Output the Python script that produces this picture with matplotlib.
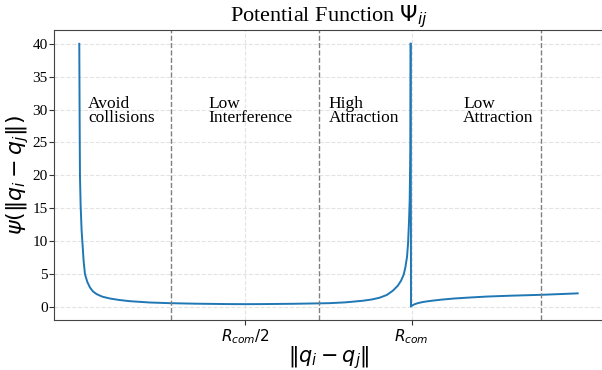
import matplotlib
matplotlib.use("Agg")
import matplotlib.pyplot as plt
import numpy as np

# distances in units of R_com
dist = [0.001, 0.002, 0.003, 0.005, 0.008, 0.010, 0.014, 0.018, 0.025, 0.033,
        0.042, 0.053, 0.070, 0.093, 0.120, 0.153, 0.213, 0.273, 0.35, 0.45,
        0.50, 0.55, 0.65, 0.72, 0.753, 0.80, 0.852, 0.88, 0.903, 0.925,
        0.943, 0.958, 0.968, 0.976, 0.981, 0.986, 0.989, 0.992, 0.994, 0.996,
        0.997,
        0.998, 1.002, 1.008, 1.018, 1.035, 1.059, 1.09, 1.128, 1.175, 1.228,
        1.30, 1.389, 1.45, 1.499]
psi = [40.0, 29.0, 20.0, 15.5, 11.6, 10.1, 7.0, 5.0, 3.8, 2.95,
       2.35, 1.94, 1.55, 1.27, 1.05, 0.86, 0.66, 0.56, 0.48, 0.42,
       0.41, 0.42, 0.47, 0.53, 0.56, 0.68, 0.92, 1.12, 1.38, 1.80,
       2.44, 3.20, 3.97, 4.9, 6.0, 7.6, 9.57, 13.0, 16.2, 24.0,
       40.0,
       0.10, 0.22, 0.38, 0.56, 0.75, 0.92, 1.10, 1.27, 1.42, 1.57,
       1.70, 1.83, 1.95, 2.05]

region_lines = [0.277, 0.721, 1.39]
region_text = ["Avoid\ncollisions", "Low\nInterference", "High\nAttraction", "Low\nAttraction"]
region_x = [0.027, 0.39, 0.75, 1.155]
xtick_pos = [0.5, 1.0]
xtick_labels = [r"$R_{com}/2$", r"$R_{com}$"]
ytick_pos = [0, 5, 10, 15, 20, 25, 30, 35, 40]

serif = "Liberation Serif"

fig = plt.figure(figsize=(6.02, 3.70), dpi=100)
ax = fig.add_axes([54/602, 50/370, (603-54)/602, 290/370])

ax.plot(dist[:41], psi[:41], color="#1f77b4", lw=1.4)
ax.plot([dist[40], dist[41]], [psi[40], psi[41]], color="#1f77b4", lw=1.4)
ax.plot(dist[41:], psi[41:], color="#1f77b4", lw=1.4)

for xv in region_lines:
    ax.axvline(xv, color="gray", ls="--", lw=1.0)
for xv, t in zip(region_x, region_text):
    ax.text(xv, 29.8, t, va="center", ha="left", fontsize=12.5,
            family=serif, linespacing=0.8)

ax.set_xlim(-0.075, 1.575)
ax.set_ylim(-2.0, 42.1)
ax.set_xticks(xtick_pos)
ax.set_xticklabels(xtick_labels, fontsize=11)
ax.set_yticks(ytick_pos)
for lab in ax.get_yticklabels():
    lab.set_family(serif)
    lab.set_fontsize(11)
ax.tick_params(length=3.5, colors="#333333", labelcolor="black")
ax.tick_params(axis="x", pad=1.5)
ax.tick_params(axis="y", pad=1)
ax.grid(True, ls="--", color="#dddddd", lw=0.8, alpha=0.8)
for s in ax.spines.values():
    s.set_color("#444444")
ax.spines["right"].set_visible(False)

ax.set_title(r"Potential Function $\Psi_{ij}$", family=serif, fontsize=16, pad=3)
ax.set_xlabel(r"$\Vert q_i - q_j \Vert$", fontsize=15, labelpad=-1)
ax.set_ylabel(r"$\psi(\Vert q_i - q_j \Vert)$", fontsize=16, labelpad=1)

fig.savefig("out.png", dpi=100)
